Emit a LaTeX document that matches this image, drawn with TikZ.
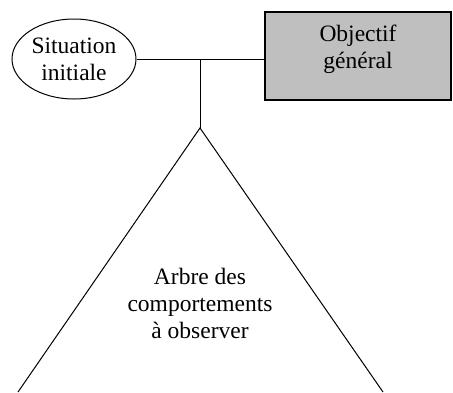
\documentclass[tikz,border=0pt]{standalone}
\usepackage{fontspec}
\setmainfont{Liberation Serif}
\usetikzlibrary{shapes,positioning,calc}

\begin{document}
\begin{tikzpicture}
  [x=1pt,y=-1pt,line width=1pt,
   txtN/.style={align=center,inner sep=0pt,font=\fontsize{23.5}{27}\selectfont},
   sitN/.style={ellipse,draw,txtN,minimum width=124pt,minimum height=80pt},
   objN/.style={rectangle,draw,line width=1.5pt,fill=black!25,minimum width=186pt,minimum height=88pt},
  ]
 \useasboundingbox (0,0) rectangle (453,392);

 \node[sitN] (sit) at (74,59) {Situation\\initiale};
 \node[objN] (obj) at (358,56) {};
 \node[txtN,below=13pt of obj.north] (objT) {Objectif\\général};

 \draw (sit.east) -- (sit.east -| obj.west);
 \coordinate (mid) at (200,59);
 \coordinate (apex) at (200,128);
 \coordinate (baseL) at (18,392);
 \coordinate (baseR) at (383,392);
 \draw (mid) -- (apex);
 \draw (baseL) -- (apex) -- (baseR);
 \node[txtN] (tree) at (200,303) {Arbre des\\comportements\\à observer};
\end{tikzpicture}
\end{document}
